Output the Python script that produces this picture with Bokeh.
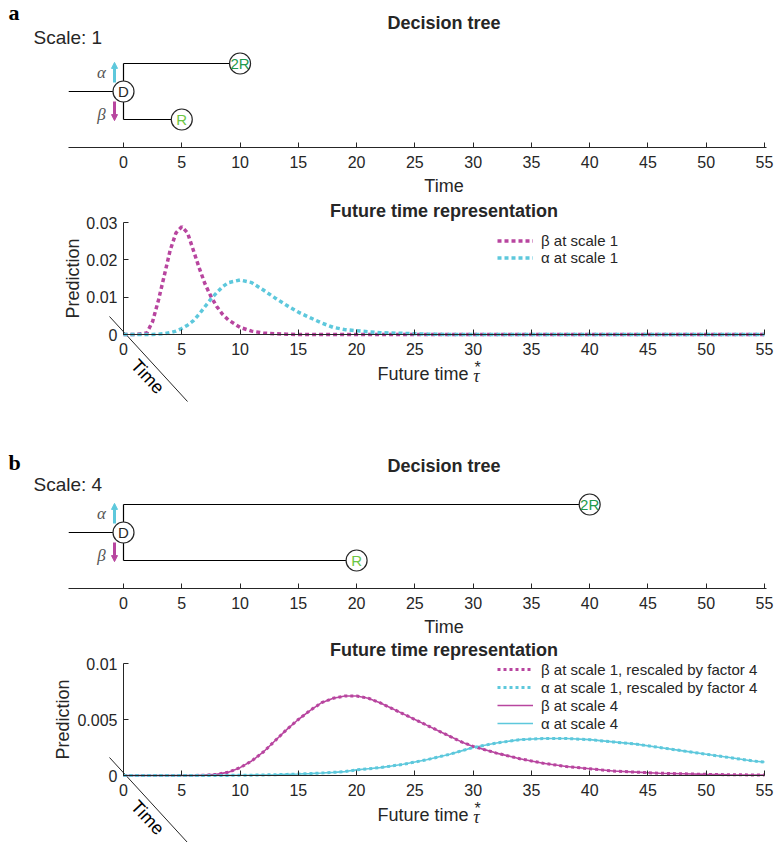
from bokeh.plotting import figure
from bokeh.layouts import column
from bokeh.models import (Range1d, FixedTicker, CustomJSTickFormatter, Label, Arrow,
                          NormalHead, Legend, LegendItem)
from bokeh.embed import file_html
from bokeh.resources import INLINE
from bokeh.core.properties import value

# ---------------- data ----------------
time_ticks = [0, 5, 10, 15, 20, 25, 30, 35, 40, 45, 50, 55]

tree_labels = ["D", "2R", "R"]
tree_levels = [0, 1, -1]
tree_times_a = [0, 10, 5]
tree_times_b = [0, 40, 20]
tree_label_colors = ["#262626", "#1f9a4b", "#6cc644"]

# scale 1 (panel a)
tau_s1 = [0, 1, 2, 2.5, 3, 3.5, 4, 4.5, 5, 5.5, 6, 6.5, 7, 7.5, 8, 8.5, 9, 10, 11, 12,
          13, 14, 15, 16, 17, 18, 19, 20, 22, 24, 26, 28, 30, 35, 40, 45, 50, 55]
beta_s1 = [0, 0, 0.0004, 0.0035, 0.0092, 0.0158, 0.0225, 0.0272, 0.0289, 0.0272, 0.0225,
           0.0178, 0.0135, 0.0102, 0.0075, 0.0054, 0.0039, 0.0019, 0.0009, 0.0004,
           0.0002, 0.0001, 0, 0, 0, 0, 0, 0, 0, 0, 0, 0, 0, 0, 0, 0, 0, 0]
alpha_s1 = [0, 0, 0, 0, 0.0001, 0.0002, 0.0005, 0.0009, 0.0016, 0.0025, 0.0037, 0.0055,
            0.0075, 0.0095, 0.0112, 0.0128, 0.0139, 0.0146, 0.0139, 0.0119, 0.0098,
            0.0078, 0.0060, 0.0045, 0.0031, 0.0019, 0.0013, 0.0010, 0.0005, 0.0003,
            0.0001, 0, 0, 0, 0, 0, 0, 0]

# scale 4 (panel b)
tau_s4 = [0, 2, 4, 6, 7, 8, 9, 10, 11, 12, 13, 14, 15, 16, 17, 18, 19, 20, 21, 22, 23, 24,
          25, 26, 27, 28, 29, 30, 32, 34, 36, 38, 40, 42, 44, 46, 48, 50, 52, 54, 55]
beta_s4 = [0, 0, 0, 0, 0.00003, 0.0001, 0.0003, 0.0007, 0.0013, 0.0021, 0.0031, 0.0041,
           0.0050, 0.0058, 0.0065, 0.0069, 0.0071, 0.0071, 0.0069, 0.0065, 0.0060, 0.0055,
           0.0050, 0.0045, 0.0040, 0.0035, 0.0030, 0.0026, 0.0020, 0.0015, 0.0011, 0.0008,
           0.0006, 0.0004, 0.0003, 0.0002, 0.00015, 0.0001, 0.00007, 0.00005, 0.00004]
alpha_s4 = [0, 0, 0, 0, 0, 0, 0.00001, 0.00002, 0.00003, 0.00005, 0.00007, 0.0001,
            0.00013, 0.00017, 0.00022, 0.00028, 0.00035, 0.0005, 0.0006, 0.0007, 0.00085,
            0.0010, 0.0012, 0.0014, 0.00165, 0.0019, 0.0022, 0.0025, 0.0029, 0.0032,
            0.0033, 0.0033, 0.0032, 0.0030, 0.0028, 0.0025, 0.0022, 0.0019, 0.0016,
            0.0013, 0.0012]
beta_s1_rescaled = list(beta_s4)
alpha_s1_rescaled = list(alpha_s4)

pred_ticks_a = [0, 0.01, 0.02, 0.03]
pred_ticks_b = [0, 0.005, 0.01]

# ---------------- style ----------------
MAG = "#b8459f"
CYN = "#5dc8dc"
AX = "#262626"
SANS = "Liberation Sans"
SERIF = "Liberation Serif"
W = 775
X0_PX = 123              # pixel column of time 0
PX = 641 / 55.0          # pixels per time unit
TREE_PX = 28.0           # pixels per tree level
TREE_Y0 = 91             # pixel row (from top) of the decision node
TREE_AXIS = 147          # pixel row (from top) of the tree's time axis
X_RANGE = (-X0_PX / PX, (W - X0_PX) / PX)


def base_fig(height, y_range):
    p = figure(width=W, height=height, x_range=Range1d(*X_RANGE), y_range=Range1d(*y_range),
               output_backend="svg", toolbar_location=None, title=None,
               min_border_left=0, min_border_right=0, min_border_top=0, min_border_bottom=0,
               frame_align=False)
    p.outline_line_color = None
    p.xgrid.visible = False
    p.ygrid.visible = False
    return p


def style_axis(ax, ticks, fixed, bounds, standoff):
    ax.ticker = FixedTicker(ticks=ticks)
    ax.fixed_location = fixed
    ax.bounds = bounds
    ax.axis_line_color = AX
    ax.major_tick_line_color = AX
    ax.major_tick_in = 5
    ax.major_tick_out = 0
    ax.minor_tick_line_color = None
    ax.major_label_text_font = SANS
    ax.major_label_text_font_size = "16px"
    ax.major_label_text_color = AX
    ax.major_label_standoff = standoff


def label(p, x, y, text, size="18px", font=SANS, style="normal", color=AX,
          align="center", baseline="middle", angle=0):
    p.add_layout(Label(x=x, y=y, text=text, text_font=font, text_font_style=style,
                       text_font_size=size, text_color=color, text_align=align,
                       text_baseline=baseline, angle=angle, angle_units="deg"))


def tree_panel(height, letter, scale_text, times, letter_row, scale_row, title_row):
    def ty(row):                        # pixel row -> tree level
        return (TREE_Y0 - row) / TREE_PX
    p = base_fig(height, (ty(height), ty(0)))
    p.yaxis.visible = False
    style_axis(p.xaxis[0], time_ticks, ty(TREE_AXIS), (-4.7, 55.2), 8)

    top, bot = tree_levels[1], tree_levels[2]
    p.segment(x0=[-4.7, 0, 0, 0], y0=[0, top, top, bot],
              x1=[0, 0, times[1], times[2]], y1=[0, bot, top, bot],
              line_color="black", line_width=1.2)
    p.scatter(x=times, y=tree_levels, marker="circle", size=21, fill_color="white",
              line_color=AX, line_width=1.2)
    p.text(x=times, y=tree_levels, text=tree_labels, text_color=tree_label_colors,
           text_align="center", text_baseline="middle", text_font=value(SANS),
           text_font_size=value("15px"))

    ax_x = -9 / PX
    p.add_layout(Arrow(end=NormalHead(size=6, fill_color=CYN, line_color=CYN),
                       x_start=ax_x, y_start=0.32, x_end=ax_x, y_end=1.04,
                       line_color=CYN, line_width=3))
    p.add_layout(Arrow(end=NormalHead(size=6, fill_color=MAG, line_color=MAG),
                       x_start=ax_x, y_start=-0.36, x_end=ax_x, y_end=-1.04,
                       line_color=MAG, line_width=3))
    label(p, -22 / PX, 0.68, "α", size="17px", font=SERIF, style="italic", color="#555555")
    label(p, -22 / PX, -0.82, "β", size="17px", font=SERIF, style="italic", color="#555555")
    label(p, -115 / PX, ty(letter_row), letter, size="22px", font=SERIF, style="bold",
          color="black", align="left")
    label(p, -90 / PX, ty(scale_row), scale_text, size="19px", align="left")
    label(p, 27.5, ty(title_row), "Decision tree", style="bold")
    label(p, 27.5, ty(185), "Time")
    return p


def curve_panel(height, zero_row, ymax, yticks, title_px, ylabel_px):
    ypx = ymax / 112.0                  # value per pixel
    p = base_fig(height, (-(height - zero_row) * ypx, zero_row * ypx))
    style_axis(p.xaxis[0], time_ticks, 0, (0, 55), 8)
    ay = p.yaxis[0]
    style_axis(ay, yticks, 0, (0, ymax), 6)
    ay.formatter = CustomJSTickFormatter(code="return String(Number(tick.toPrecision(6)));")

    label(p, 27.5, title_px * ypx, "Future time representation", style="bold")
    label(p, ylabel_px / PX, 56 * ypx, "Prediction", angle=90)
    label(p, 254 / PX, -39 * ypx, "Future time", align="left")
    label(p, 353 / PX, -41 * ypx, "τ", font=SERIF, style="italic")
    label(p, 354 / PX, -33 * ypx, "*", size="16px", baseline="alphabetic")
    # pseudo-3D time axis
    p.segment(x0=[-14 / PX], y0=[18 * ypx], x1=[64 / PX], y1=[-67 * ypx],
              line_color=AX, line_width=1)
    label(p, 24 / PX, -42 * ypx, "Time", color="black", angle=-47)
    return p


def make_legend(items, loc, row_h):
    return Legend(items=items, location=loc, orientation="vertical", glyph_width=36,
                  glyph_height=row_h, label_height=row_h, label_standoff=8, padding=0,
                  margin=0, spacing=0, background_fill_alpha=0, border_line_alpha=0,
                  label_text_font=SANS, label_text_font_size="15px", label_text_color=AX)


# ---------------- panel a ----------------
tree_a = tree_panel(197, "a", "Scale: 1", tree_times_a, 12, 37, 22)
curve_a = curve_panel(244, 137, 0.03, pred_ticks_a, 124, -51)
rb = curve_a.line(tau_s1, beta_s1, line_color=MAG, line_width=3.5, line_dash="4 3")
ra = curve_a.line(tau_s1, alpha_s1, line_color=CYN, line_width=3.5, line_dash="4 3")
curve_a.add_layout(make_legend([LegendItem(label="β at scale 1", renderers=[rb]),
                                LegendItem(label="α at scale 1", renderers=[ra])],
                               (497, 175), 17))

# ---------------- panel b ----------------
tree_b = tree_panel(196, "b", "Scale: 4", tree_times_b, 21, 43, 24)
curve_b = curve_panel(205, 138, 0.01, pred_ticks_b, 126, -61)
sb = curve_b.line(tau_s4, beta_s4, line_color=MAG, line_width=1.6)
sa = curve_b.line(tau_s4, alpha_s4, line_color=CYN, line_width=1.6)
db = curve_b.line(tau_s4, beta_s1_rescaled, line_color=MAG, line_width=3, line_dash="3 3")
da = curve_b.line(tau_s4, alpha_s1_rescaled, line_color=CYN, line_width=3, line_dash="3 3")
curve_b.add_layout(make_legend([
    LegendItem(label="β at scale 1, rescaled by factor 4", renderers=[db]),
    LegendItem(label="α at scale 1, rescaled by factor 4", renderers=[da]),
    LegendItem(label="β at scale 4", renderers=[sb]),
    LegendItem(label="α at scale 4", renderers=[sa])], (497, 110), 18))

layout = column(tree_a, curve_a, tree_b, curve_b, spacing=0)
with open("out.html", "w") as f:
    f.write(file_html(layout, INLINE))
